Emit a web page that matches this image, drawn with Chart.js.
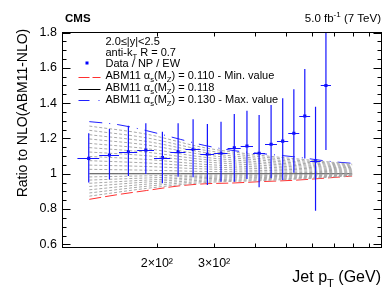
<!DOCTYPE html>
<html>
<head>
<meta charset="utf-8">
<script src="https://cdn.jsdelivr.net/npm/chart.js@4.4.0/dist/chart.umd.min.js"></script>
<style>
  html, body { margin: 0; padding: 0; background: #fff; }
  #wrap { width: 390px; height: 302px; }
</style>
</head>
<body>
<div id="wrap"><canvas id="ratioChart" width="390" height="302"></canvas></div>
<script>
// jet pT bins (GeV) and data / theory ratio
const binLo = [114, 133, 153, 174, 196, 220, 245, 272, 300, 330, 362, 395, 430, 468, 507, 548, 592, 638];
const binHi = [133, 153, 174, 196, 220, 245, 272, 300, 330, 362, 395, 430, 468, 507, 548, 592, 638, 686];
const ptCenter = [123.5, 143, 163.5, 185, 208, 232.5, 258.5, 286, 315, 346, 378.5, 412.5, 449, 487.5, 527.5, 570, 615, 662];
const ratio = [1.087, 1.106, 1.125, 1.134, 1.091, 1.125, 1.138, 1.110, 1.116, 1.147, 1.157, 1.116, 1.167, 1.185, 1.229, 1.327, 1.072, 1.500];
const errTop = [1.229, 1.253, 1.272, 1.286, 1.238, 1.286, 1.308, 1.282, 1.295, 1.338, 1.357, 1.333, 1.389, 1.427, 1.478, 1.593, 1.380, 1.850];
const errBottom = [0.951, 0.968, 0.987, 0.998, 0.946, 0.983, 0.980, 0.936, 0.955, 0.955, 0.970, 0.923, 0.974, 0.964, 1.006, 1.087, 0.790, 1.134];

// ABM11 curves for alpha_s = 0.110 (min), 0.118, 0.130 (max)
const bandX = [124, 152, 186, 236, 281, 348, 415, 528, 680, 797];
const asMin = [0.855, 0.882, 0.905, 0.932, 0.943, 0.948, 0.955, 0.963, 0.977, 0.987];
const asCentral = [1, 1, 1, 1, 1, 1, 1, 1, 1, 1];
const asMax = [1.295, 1.278, 1.244, 1.195, 1.160, 1.130, 1.115, 1.096, 1.070, 1.059];

// intermediate alpha_s values (grey dashed), 0.111 ... 0.129
const midX = [124, 186, 281, 415, 600, 797];
const midCurves = [
  [0.873, 0.917, 0.950, 0.961, 0.974, 0.989],
  [0.891, 0.929, 0.957, 0.966, 0.978, 0.990],
  [0.909, 0.941, 0.964, 0.972, 0.981, 0.992],
  [0.928, 0.953, 0.972, 0.978, 0.985, 0.994],
  [0.946, 0.964, 0.979, 0.983, 0.989, 0.995],
  [0.964, 0.976, 0.986, 0.989, 0.993, 0.997],
  [0.982, 0.988, 0.993, 0.994, 0.996, 0.998],
  [1.025, 1.020, 1.013, 1.010, 1.007, 1.005],
  [1.049, 1.041, 1.027, 1.019, 1.014, 1.010],
  [1.074, 1.061, 1.040, 1.029, 1.021, 1.015],
  [1.098, 1.081, 1.053, 1.038, 1.028, 1.020],
  [1.123, 1.102, 1.067, 1.048, 1.035, 1.025],
  [1.148, 1.122, 1.080, 1.058, 1.042, 1.030],
  [1.172, 1.142, 1.093, 1.067, 1.048, 1.034],
  [1.197, 1.163, 1.107, 1.077, 1.055, 1.039],
  [1.221, 1.183, 1.120, 1.086, 1.062, 1.044],
  [1.246, 1.203, 1.133, 1.096, 1.069, 1.049],
  [1.270, 1.224, 1.147, 1.105, 1.076, 1.054]
];

// axis ticks
const yTicks = [0.6, 0.8, 1, 1.2, 1.4, 1.6, 1.8];
const yTickLabels = ['0.6', '0.8', '1', '1.2', '1.4', '1.6', '1.8'];
const xTicks = [200, 300, 400, 500, 600, 700, 800, 900];
const xTickLabels = ['2\u00d710\u00b2', '3\u00d710\u00b2', '', '', '', '', '', ''];

const FONT = '"Liberation Sans", Arial, Helvetica, sans-serif';
const BLUE = '#0000ff';

function pts(xs, ys) {
  return xs.map((x, i) => ({ x: x, y: ys[i] }));
}

// draws text made of pieces, some of them sub- or superscript
function richText(ctx, x, y, parts, size, align) {
  let total = 0;
  parts.forEach(p => {
    const s = p[1] ? size * 0.7 : size;
    ctx.font = s + 'px ' + FONT;
    total += ctx.measureText(p[0]).width;
  });
  let cx = align === 'right' ? x - total : x;
  ctx.textAlign = 'left';
  ctx.textBaseline = 'alphabetic';
  parts.forEach(p => {
    const s = p[1] ? size * 0.7 : size;
    ctx.font = s + 'px ' + FONT;
    let dy = 0;
    if (p[1] === 'sub') dy = size * 0.3;
    if (p[1] === 'sup') dy = -size * 0.45;
    ctx.fillText(p[0], cx, y + dy);
    cx += ctx.measureText(p[0]).width;
  });
}

let datasets = [];
midCurves.forEach(c => {
  datasets.push({
    type: 'line', data: pts(midX, c), borderColor: '#a8a8a8', borderWidth: 1,
    borderDash: [3, 2], pointRadius: 0, cubicInterpolationMode: 'monotone', fill: false
  });
});
datasets.push({
  type: 'line', data: pts(bandX, asCentral), borderColor: '#444444', borderWidth: 1,
  pointRadius: 0, fill: false
});
datasets.push({
  type: 'line', data: pts(bandX, asMin), borderColor: '#ff3030', borderWidth: 1,
  borderDash: [12, 4], pointRadius: 0, cubicInterpolationMode: 'monotone', fill: false
});
datasets.push({
  type: 'line', data: pts(bandX, asMax), borderColor: '#2020ff', borderWidth: 1,
  borderDash: [13, 7, 1, 7], pointRadius: 0, cubicInterpolationMode: 'monotone', fill: false
});
datasets.push({
  type: 'scatter', data: pts(ptCenter, ratio), backgroundColor: BLUE, borderWidth: 0,
  pointStyle: 'rect', pointRadius: 2.2
});

// error bars for the data points
const errorBars = {
  id: 'errorBars',
  afterDatasetsDraw(chart) {
    const ctx = chart.ctx, a = chart.chartArea;
    const xs = chart.scales.x, ys = chart.scales.y;
    ctx.save();
    ctx.beginPath();
    ctx.rect(a.left, a.top, a.right - a.left, a.bottom - a.top);
    ctx.clip();
    ctx.setLineDash([]);
    ctx.strokeStyle = '#1414ff';
    ctx.lineWidth = 1.2;
    ratio.forEach((r, i) => {
      const px = xs.getPixelForValue(ptCenter[i]);
      const py = Math.round(ys.getPixelForValue(r)) + 0.5;
      ctx.beginPath();
      ctx.moveTo(xs.getPixelForValue(binLo[i]), py);
      ctx.lineTo(xs.getPixelForValue(binHi[i]), py);
      ctx.moveTo(px, ys.getPixelForValue(errTop[i]));
      ctx.lineTo(px, ys.getPixelForValue(errBottom[i]));
      ctx.stroke();
    });
    ctx.restore();
  }
};

// frame, ticks, labels and legend in ROOT style
const frameAndText = {
  id: 'frameAndText',
  afterDraw(chart) {
    const ctx = chart.ctx;
    const xs = chart.scales.x, ys = chart.scales.y;
    const L = 62.5, R = 381.5, T = 32.5, B = 247.5;
    ctx.save();
    ctx.strokeStyle = '#000';
    ctx.lineWidth = 1;
    ctx.strokeRect(L, T, R - L, B - T);

    // y ticks, both sides
    ctx.beginPath();
    for (let i = 12; i <= 36; i++) {
      const v = i * 0.05;
      const py = Math.round(ys.getPixelForValue(v)) + 0.5;
      const len = (i % 4 === 0) ? 8 : 4;
      ctx.moveTo(L, py); ctx.lineTo(L + len, py);
      ctx.moveTo(R, py); ctx.lineTo(R - len, py);
    }
    // x ticks, bottom and top
    xTicks.forEach(v => {
      const px = Math.round(xs.getPixelForValue(v)) + 0.5;
      ctx.moveTo(px, B); ctx.lineTo(px, B - 4);
      ctx.moveTo(px, T); ctx.lineTo(px, T + 4);
    });
    ctx.stroke();

    ctx.fillStyle = '#000';
    ctx.font = '12.5px ' + FONT;
    ctx.textAlign = 'right';
    ctx.textBaseline = 'middle';
    yTicks.forEach((v, i) => {
      ctx.fillText(yTickLabels[i], 57, ys.getPixelForValue(v));
    });
    ctx.textAlign = 'center';
    xTicks.forEach((v, i) => {
      if (xTickLabels[i]) ctx.fillText(xTickLabels[i], xs.getPixelForValue(v), 264);
    });

    // axis titles
    richText(ctx, 381, 282, [['Jet p'], ['T', 'sub'], [' (GeV)']], 16, 'right');
    ctx.save();
    ctx.translate(27, 113);
    ctx.rotate(-Math.PI / 2);
    ctx.font = '14px ' + FONT;
    ctx.textAlign = 'center';
    ctx.textBaseline = 'alphabetic';
    ctx.fillText('Ratio to NLO(ABM11-NLO)', 0, 0);
    ctx.restore();

    // header
    ctx.font = 'bold 11.5px ' + FONT;
    ctx.textAlign = 'left';
    ctx.textBaseline = 'alphabetic';
    ctx.fillText('CMS', 65, 22);
    richText(ctx, 381, 22, [['5.0 fb'], ['-1', 'sup'], [' (7 TeV)']], 11.5, 'right');

    // legend block
    const tx = 105.5;
    richText(ctx, tx, 45, [['2.0\u2264|y|<2.5']], 11);
    richText(ctx, tx, 56, [['anti-k'], ['T', 'sub'], [' R = 0.7']], 11);
    ctx.fillStyle = BLUE;
    ctx.fillRect(85.5, 61.5, 3, 3);
    ctx.fillStyle = '#000';
    richText(ctx, tx, 67, [['Data / NP / EW']], 11);
    const abm = val => [['ABM11 \u03b1'], ['s', 'sub'], ['(M'], ['Z', 'sub'], [') = ' + val]];
    richText(ctx, tx, 79, abm('0.110 - Min. value'), 11);
    richText(ctx, tx, 91, abm('0.118'), 11);
    richText(ctx, tx, 102.5, abm('0.130 - Max. value'), 11);

    ctx.lineWidth = 1;
    ctx.setLineDash([11, 3]);
    ctx.strokeStyle = '#ff3030';
    ctx.beginPath(); ctx.moveTo(78.5, 77.5); ctx.lineTo(100.5, 77.5); ctx.stroke();
    ctx.setLineDash([]);
    ctx.strokeStyle = '#000';
    ctx.beginPath(); ctx.moveTo(78.5, 89.5); ctx.lineTo(100.5, 89.5); ctx.stroke();
    ctx.setLineDash([11, 9, 1, 9]);
    ctx.strokeStyle = '#2020ff';
    ctx.beginPath(); ctx.moveTo(78.5, 100.5); ctx.lineTo(100.5, 100.5); ctx.stroke();
    ctx.restore();
  }
};

new Chart(document.getElementById('ratioChart'), {
  type: 'scatter',
  data: { datasets: datasets },
  options: {
    responsive: false,
    animation: false,
    devicePixelRatio: 1,
    layout: { padding: { left: 62, right: 8.5, top: 32.5, bottom: 55 } },
    plugins: { legend: { display: false }, tooltip: { enabled: false } },
    scales: {
      x: { type: 'logarithmic', min: 102.2, max: 981, display: false },
      y: { min: 0.585, max: 1.8, display: false }
    }
  },
  plugins: [errorBars, frameAndText]
});
</script>
</body>
</html>
